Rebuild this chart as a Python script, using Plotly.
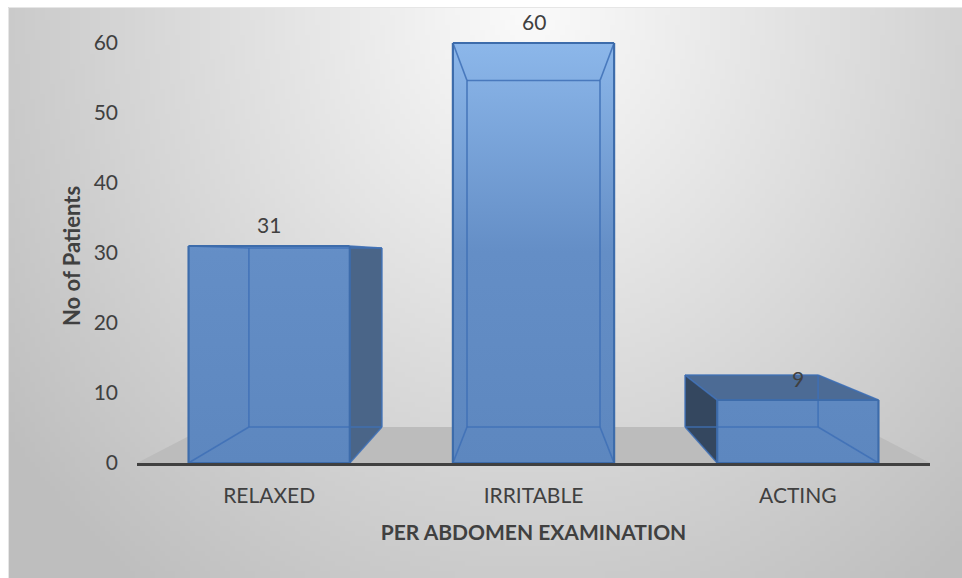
import base64
import struct
import zlib

import plotly.graph_objects as go

# ---- data -------------------------------------------------------------
categories = ["RELAXED", "IRRITABLE", "ACTING"]
patients = [31, 60, 9]
y_ticks = [0, 10, 20, 30, 40, 50, 60]

x_axis_title = "PER ABDOMEN EXAMINATION"
y_axis_title = "No of Patients"

# ---- 3-D look: bars are boxes seen in perspective ---------------------
BAR_HALF = 0.305          # half width of a box front, in category units
DEPTH = 0.825             # scale of the back face towards the vanishing point
VANISH = (1.0, 29.4)      # vanishing point in data coordinates
FLOOR_X = (-0.5, 2.5)

W, H = 962, 578
L, R, T, B = 137, 32, 1, 115
Y_RANGE = [0, 66]

FONT = "Lato"
TEXT_COLOR = "#404040"


def to_back(x, y):
    vx, vy = VANISH
    return vx + DEPTH * (x - vx), vy + DEPTH * (y - vy)


def poly(points):
    xs = [p[0] for p in points] + [points[0][0]]
    ys = [p[1] for p in points] + [points[0][1]]
    return xs, ys


def face(points, color, **extra):
    xs, ys = poly(points)
    return go.Scatter(x=xs, y=ys, mode="lines", fill="toself", fillcolor=color,
                      line=dict(width=0), hoverinfo="skip", showlegend=False, **extra)


def edges(segments, color, width):
    xs, ys = [], []
    for a, b in segments:
        xs += [a[0], b[0], None]
        ys += [a[1], b[1], None]
    return go.Scatter(x=xs, y=ys, mode="lines", line=dict(color=color, width=width),
                      hoverinfo="skip", showlegend=False)


# ---- chart-area background (soft radial gray) -------------------------
def gray_png(w, h, shade):
    raw = b"".join(b"\x00" + bytes(shade(i, j) for i in range(w)) for j in range(h))

    def chunk(tag, data):
        c = struct.pack(">I", len(data)) + tag + data
        return c + struct.pack(">I", zlib.crc32(tag + data) & 0xFFFFFFFF)

    return (b"\x89PNG\r\n\x1a\n"
            + chunk(b"IHDR", struct.pack(">IIBBBBB", w, h, 8, 0, 0, 0, 0))
            + chunk(b"IDAT", zlib.compress(raw, 9))
            + chunk(b"IEND", b""))


BG_X0, BG_Y0, BG_X1, BG_Y1 = 8, 7, W, H
IMG_W, IMG_H = 191, 115


def bg_shade(i, j):
    px = BG_X0 + (i + 0.5) * (BG_X1 - BG_X0) / IMG_W
    py = BG_Y0 + (j + 0.5) * (BG_Y1 - BG_Y0) / IMG_H
    dx = (px - 530) / 560.0
    dy = (py - 10) / 620.0
    d = (dx * dx + dy * dy) ** 0.5
    v = 251 - 52 * d
    return int(max(190, min(251, v)))


bg_uri = "data:image/png;base64," + base64.b64encode(gray_png(IMG_W, IMG_H, bg_shade)).decode()


def paper_x(px):
    return (px - L) / (W - L - R)


def paper_y(py):
    return (H - B - py) / (H - T - B)


# ---- traces -----------------------------------------------------------
traces = []

# floor
f0, f1 = FLOOR_X
traces.append(face([(f0, 0), (f1, 0), to_back(f1, 0), to_back(f0, 0)], "#bcbcbc"))

front_gradient = dict(type="vertical", start=0, stop=60,
                      colorscale=[[0.0, "#5d87bf"], [0.5, "#648ec6"], [1.0, "#8cb7ea"]])

labels = []
for i, v in enumerate(patients):
    fl0, fr0 = (i - BAR_HALF, 0), (i + BAR_HALF, 0)
    flt, frt = (i - BAR_HALF, v), (i + BAR_HALF, v)
    bl0, br0, blt, brt = (to_back(*p) for p in (fl0, fr0, flt, frt))

    traces.append(face([fl0, flt, blt, bl0], "#34475f"))     # left side
    traces.append(face([fr0, frt, brt, br0], "#4a6588"))     # right side
    traces.append(face([flt, frt, brt, blt], "#4c6b95"))     # top
    traces.append(face([fl0, fr0, frt, flt], "#6089c1", fillgradient=front_gradient))

    # edges seen through the translucent front
    traces.append(edges([(bl0, br0), (br0, brt), (brt, blt), (blt, bl0),
                         (fl0, bl0), (fr0, br0), (flt, blt), (frt, brt)],
                        "rgba(62,112,182,0.85)", 1.6))
    # front outline
    traces.append(edges([(fl0, fr0), (fr0, frt), (frt, flt), (flt, fl0)], "#3d6cab", 2.2))

    labels.append(dict(x=i, y=v, text=str(v), showarrow=False, yanchor="middle", yshift=22,
                       font=dict(family=FONT, size=21, color=TEXT_COLOR)))

# vertical axis title, centred beside the value range
labels.append(dict(xref="paper", yref="paper", x=paper_x(71), y=paper_y(256),
                   text=y_axis_title, textangle=-90, showarrow=False,
                   xanchor="center", yanchor="middle",
                   font=dict(family=FONT, size=22, color=TEXT_COLOR, weight="bold")))

fig = go.Figure(traces)

fig.update_layout(
    width=W, height=H, autosize=False,
    margin=dict(l=L, r=R, t=T, b=B),
    paper_bgcolor="white",
    plot_bgcolor="rgba(0,0,0,0)",
    showlegend=False,
    font=dict(family=FONT, size=21, color=TEXT_COLOR),
    annotations=labels,
    images=[dict(source=bg_uri, xref="paper", yref="paper",
                 x=paper_x(BG_X0), y=paper_y(BG_Y0),
                 sizex=paper_x(BG_X1) - paper_x(BG_X0),
                 sizey=paper_y(BG_Y0) - paper_y(BG_Y1),
                 xanchor="left", yanchor="top", sizing="stretch", layer="below")],
    shapes=[dict(type="rect", xref="paper", yref="paper",
                 x0=paper_x(BG_X0 + 0.5), x1=paper_x(BG_X1 + 2),
                 y0=paper_y(BG_Y1 + 2), y1=paper_y(BG_Y0 + 0.5),
                 line=dict(color="#e6e6e6", width=1), layer="below")],
)

fig.update_xaxes(
    range=list(FLOOR_X),
    tickvals=list(range(len(categories))), ticktext=categories,
    showgrid=False, zeroline=False, ticks="",
    showline=True, linecolor="#404040", linewidth=3,
    ticklabelstandoff=12,
    tickfont=dict(family=FONT, size=21, color=TEXT_COLOR),
    title=dict(text=x_axis_title, standoff=20,
               font=dict(family=FONT, size=21, color=TEXT_COLOR, weight="bold")),
    fixedrange=True,
)

fig.update_yaxes(
    range=Y_RANGE,
    tickvals=y_ticks,
    showgrid=False, zeroline=False, ticks="", showline=False,
    ticklabelstandoff=18,
    tickfont=dict(family=FONT, size=21, color=TEXT_COLOR),
    fixedrange=True,
)

fig.write_html("out.html")
